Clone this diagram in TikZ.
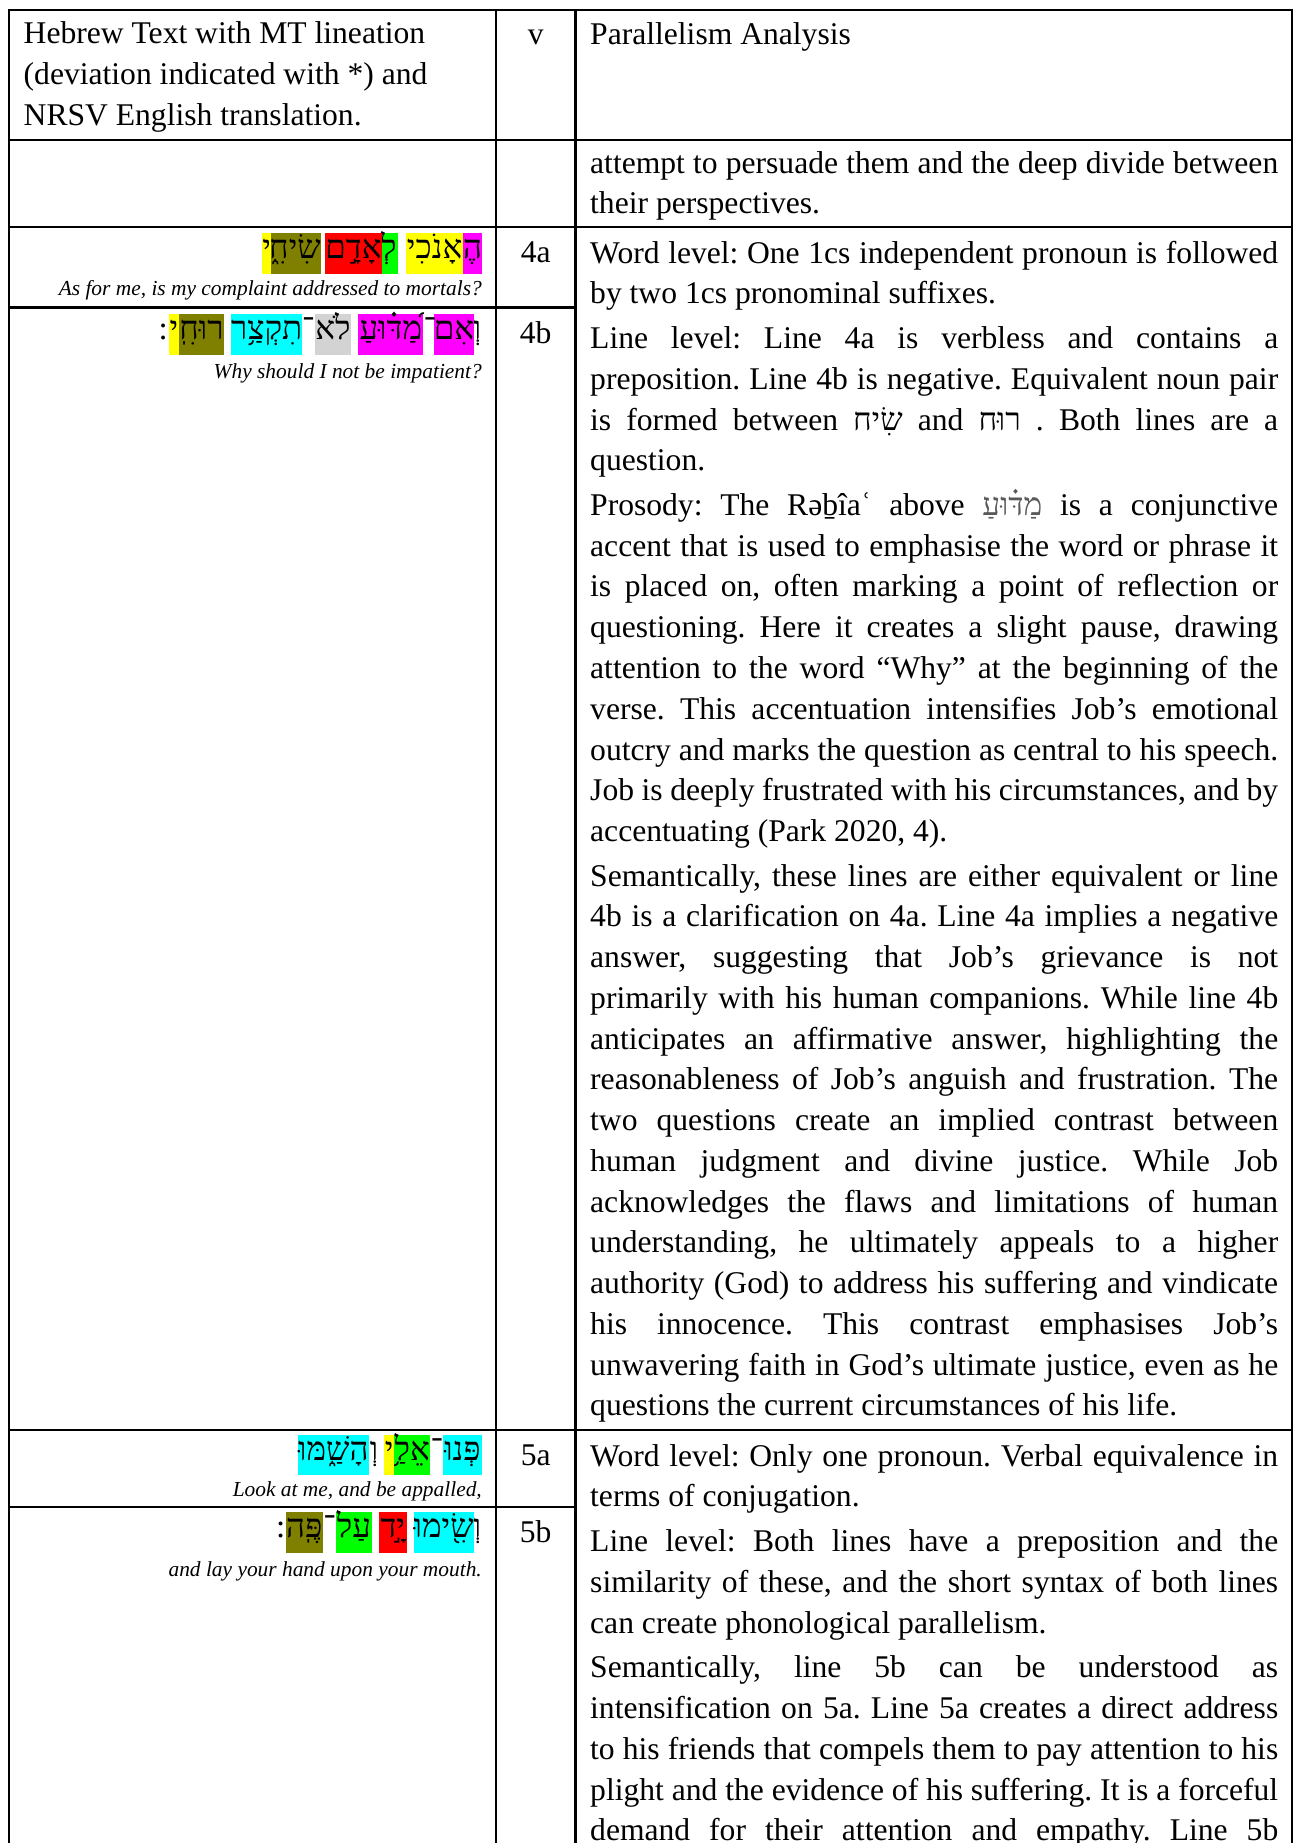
\documentclass[tikz,border=0pt]{standalone}
\usepackage{fontspec}
\setmainfont{Liberation Serif}
\newfontfamily\hebfont[Script=Hebrew]{Liberation Serif}
\TeXXeTstate=1
\frenchspacing
\definecolor{hlgray}{RGB}{211,211,211}
\definecolor{hlmagenta}{RGB}{255,0,255}
\definecolor{hlyellow}{RGB}{255,255,0}
\definecolor{hlgreen}{RGB}{0,255,0}
\definecolor{hlred}{RGB}{255,0,0}
\definecolor{hlolive}{RGB}{128,128,0}
\definecolor{hlcyan}{RGB}{0,255,255}

\begin{document}
\begin{tikzpicture}[x=1pt, y=-1pt,
  rule/.style={line width=2.6pt, line cap=rect},
  txt/.style={inner sep=0pt, font=\fontsize{31.6}{40.75}\selectfont},
  body/.style={txt, anchor=north west, text width=688pt, align=justify,
    execute at begin node={\setlength{\parindent}{0pt}\setlength{\parskip}{3.9pt}\tolerance=10000\rule{0pt}{26pt}}},
  vcol/.style={txt, anchor=base},
  trans/.style={inner sep=0pt, anchor=base east, font=\fontsize{21.4}{25}\selectfont\itshape},
  heb/.style={inner sep=0pt, anchor=base, font=\fontsize{33}{36}\selectfont\hebfont},
  hl/.style={heb, text height=25pt, text depth=15.3pt}]
\useasboundingbox (0,0) rectangle (1302,1843);

% table rules
\draw [rule] (9,10) -- (1292,10);
\draw [rule] (9,140) -- (1292,140);
\draw [rule] (9,227) -- (1292,227);
\draw [rule] (9,307.5) -- (575.5,307.5);
\draw [rule] (9,1430) -- (1292,1430);
\draw [rule] (9,1507) -- (575.5,1507);
\draw [rule] (9,10) -- (9,1850);
\draw [rule] (496,10) -- (496,1850);
\draw [rule] (575.5,10) -- (575.5,1850);
\draw [rule] (1292,10) -- (1292,1850);

% header
\draw (23.5,21.5) node [txt, anchor=north west, align=left,
  execute at begin node={\rule{0pt}{26pt}}] (head) {Hebrew Text with MT lineation\\(deviation indicated with *) and\\NRSV English translation.};
\draw (535.7,45) node [vcol] (vhead) {v};
\draw (590,44.5) node [txt, anchor=base west] (ahead) {Parallelism Analysis};

% continued row
\draw (590,147) node [body] (arow) {attempt to persuade them and the deep divide between\linebreak their perspectives.};

% verse 4
\draw (472.5,258.3) node [hl, fill=hlmagenta, minimum width=18.4pt] (h4a1) {\beginR הֶ\endR};
\draw (434.65,258.3) node [hl, fill=hlyellow, minimum width=57.3pt] (h4a2) {\beginR אָנֹכִי\endR};
\draw (388.85,258.3) node [hl, fill=hlgreen, minimum width=17.7pt] (h4a3) {\beginR לְ\endR};
\draw (353.5,258.3) node [hl, fill=hlred, minimum width=53pt] (h4a4) {\beginR אָדָ֣ם\endR};
\draw (295,258.3) node [hl, fill=hlolive, minimum width=48pt] (h4a5) {\beginR שִׂיחִ֑\endR};
\draw (266.65,258.3) node [hl, fill=hlyellow, minimum width=8.7pt] (h4a6) {\beginR י\endR};
\draw (482,296) node [trans] (t4a) {As for me, is my complaint addressed to mortals?};
\draw (535.7,263) node [vcol] (v4a) {4a};

\draw (477,339.3) node [heb] (p4b1) {\beginR וְ\endR};
\draw (454,339.3) node [hl, fill=hlmagenta, minimum width=36pt] (h4b1) {\beginR אִם\endR};
\draw (429.6,339.3) node [heb] (p4b2) {\beginR ־\endR};
\draw (390.8,339.3) node [hl, fill=hlmagenta, minimum width=65pt] (h4b2) {\beginR מַ֝דּ֗וּעַ\endR};
\draw (333,339.3) node [hl, fill=hlgray, minimum width=36pt] (h4b3) {\beginR לֹא\endR};
\draw (308.3,339.3) node [heb] (p4b3) {\beginR ־\endR};
\draw (266.7,339.3) node [hl, fill=hlcyan, minimum width=70pt] (h4b4) {\beginR תִקְצַ֥ר\endR};
\draw (201.35,339.3) node [hl, fill=hlolive, minimum width=44.7pt] (h4b5) {\beginR רוּחִֽ\endR};
\draw (174,339.3) node [hl, fill=hlyellow, minimum width=10pt] (h4b6) {\beginR י\endR};
\draw (158.5,339.3) node [heb] (p4b4) {\beginR ׃\endR};
\draw (482,378.3) node [trans] (t4b) {Why should I not be impatient?};
\draw (535.7,343) node [vcol] (v4b) {4b};

\draw (590,237) node [body] (a4) {Word level: One 1cs independent pronoun is followed\linebreak by two 1cs pronominal suffixes.\par
Line level: Line 4a is verbless and contains a\linebreak preposition. Line 4b is negative. Equivalent noun pair\linebreak is formed between {\hebfont\beginR שִׂיח\endR} and {\hebfont\beginR רוּח\endR} . Both lines are a\linebreak question.\par
Prosody: The Rəḇîaʿ above {\hebfont\color{black!65}\beginR מַדּ֗וּעַ\endR} is a conjunctive\linebreak accent that is used to emphasise the word or phrase it\linebreak is placed on, often marking a point of reflection or\linebreak questioning. Here it creates a slight pause, drawing\linebreak attention to the word “Why” at the beginning of the\linebreak verse. This accentuation intensifies Job’s emotional\linebreak outcry and marks the question as central to his speech.\linebreak Job is deeply frustrated with his circumstances, and by\linebreak accentuating (Park 2020, 4).\par
Semantically, these lines are either equivalent or line\linebreak 4b is a clarification on 4a. Line 4a implies a negative\linebreak answer, suggesting that Job’s grievance is not\linebreak primarily with his human companions. While line 4b\linebreak anticipates an affirmative answer, highlighting the\linebreak reasonableness of Job’s anguish and frustration. The\linebreak two questions create an implied contrast between\linebreak human judgment and divine justice. While Job\linebreak acknowledges the flaws and limitations of human\linebreak understanding, he ultimately appeals to a higher\linebreak authority (God) to address his suffering and vindicate\linebreak his innocence. This contrast emphasises Job’s\linebreak unwavering faith in God’s ultimate justice, even as he\linebreak questions the current circumstances of his life.};

% verse 5
\draw (462.5,1460) node [hl, fill=hlcyan, minimum width=38.4pt] (h5a1) {\beginR פְּנוּ\endR};
\draw (436.7,1460) node [heb] (p5a1) {\beginR ־\endR};
\draw (412.15,1460) node [hl, fill=hlgreen, minimum width=35.7pt] (h5a2) {\beginR אֵלַ֥\endR};
\draw (389.3,1460) node [hl, fill=hlyellow, minimum width=10pt] (h5a3) {\beginR י\endR};
\draw (374,1460) node [heb] (p5a2) {\beginR וְ\endR};
\draw (333.35,1460) node [hl, fill=hlcyan, minimum width=66.7pt] (h5a4) {\beginR הָשַׁ֑מּוּ\endR};
\draw (482,1496) node [trans] (t5a) {Look at me, and be appalled,};
\draw (535.7,1465.5) node [vcol] (v5a) {5a};

\draw (477,1537.3) node [heb] (p5b1) {\beginR וְ\endR};
\draw (443.7,1537.3) node [hl, fill=hlcyan, minimum width=56pt] (h5b1) {\beginR שִׂ֖ימוּ\endR};
\draw (392.85,1537.3) node [hl, fill=hlred, minimum width=27.7pt] (h5b2) {\beginR יָ֣ד\endR};
\draw (353.85,1537.3) node [hl, fill=hlgreen, minimum width=35.7pt] (h5b3) {\beginR עַל\endR};
\draw (329.35,1537.3) node [heb] (p5b2) {\beginR ־\endR};
\draw (304.35,1537.3) node [hl, fill=hlolive, minimum width=36.7pt] (h5b4) {\beginR פֶּֽה\endR};
\draw (276,1537.3) node [heb] (p5b3) {\beginR ׃\endR};
\draw (482,1576.7) node [trans] (t5b) {and lay your hand upon your mouth.};
\draw (535.7,1542.5) node [vcol] (v5b) {5b};

\draw (590,1440) node [body] (a5) {Word level: Only one pronoun. Verbal equivalence in\linebreak terms of conjugation.\par
Line level: Both lines have a preposition and the\linebreak similarity of these, and the short syntax of both lines\linebreak can create phonological parallelism.\par
Semantically, line 5b can be understood as\linebreak intensification on 5a. Line 5a creates a direct address\linebreak to his friends that compels them to pay attention to his\linebreak plight and the evidence of his suffering. It is a forceful\linebreak demand for their attention and empathy. Line 5b\linebreak};
\end{tikzpicture}
\end{document}
